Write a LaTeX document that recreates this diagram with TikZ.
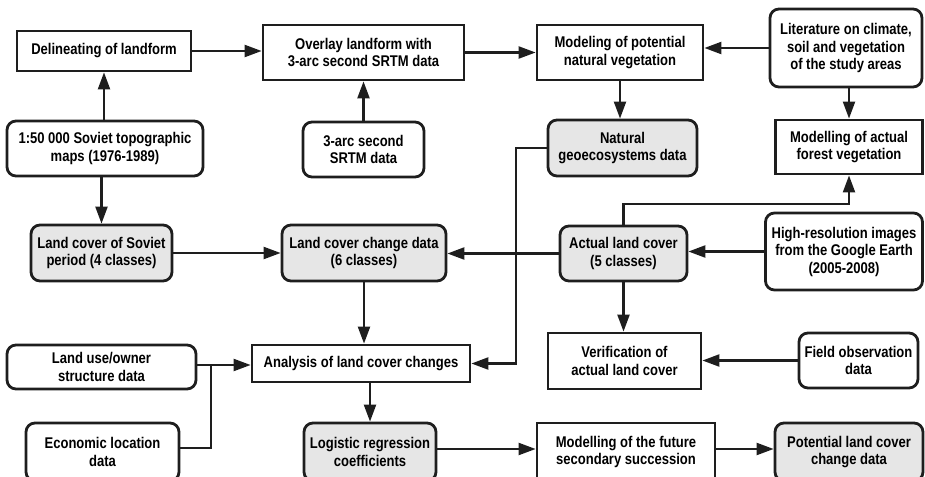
\documentclass[tikz,border=0pt]{standalone}
\usepackage{fontspec}
\setmainfont[FakeStretch=0.84]{Liberation Sans}
\usetikzlibrary{arrows.meta}
\definecolor{ink}{HTML}{1E1E1E}
\definecolor{boxgray}{HTML}{E6E6E6}
\begin{document}
\begin{tikzpicture}[x=1pt,y=1pt,
  base/.style={draw=ink,line width=2.8pt,align=center,inner sep=0pt,
    font=\fontsize{15.5}{17.5}\selectfont\bfseries,text=black},
  sq/.style={base},
  rd/.style={base,rounded corners=9pt},
  gr/.style={base,rounded corners=9pt,fill=boxgray},
  conn/.style={draw=ink,line width=2.2pt,-{Triangle[length=17pt,width=12pt]}},
  plain/.style={draw=ink,line width=2.2pt}]
\useasboundingbox (0,0) rectangle (925,-476);
\clip (0,0) rectangle (925,-476);
% nodes
\node[sq,minimum width=174pt,minimum height=40pt] (dl) at (104,-51) {Delineating of landform};
\node[sq,minimum width=201pt,minimum height=55pt] (ov) at (363.5,-52.5) {Overlay landform with\\3-arc second SRTM data};
\node[sq,minimum width=166pt,minimum height=55pt] (mp) at (620,-52.5) {Modeling of potential\\natural vegetation};
\node[rd,minimum width=152pt,minimum height=78pt] (lit) at (846,-48) {Literature on climate,\\soil and vegetation\\of the study areas};
\node[rd,minimum width=196pt,minimum height=55pt] (top) at (105,-148.5) {1:50 000 Soviet topographic\\maps (1976-1989)};
\node[rd,minimum width=121pt,minimum height=55pt] (srtm) at (363.5,-149.5) {3-arc second\\SRTM data};
\node[gr,minimum width=149pt,minimum height=56pt] (nat) at (622.5,-148) {Natural\\geoecosystems data};
\node[sq,minimum width=147pt,minimum height=54pt] (maf) at (849,-147) {Modelling of actual\\forest vegetation};
\node[gr,minimum width=141pt,minimum height=56pt] (sov) at (101.5,-253) {Land cover of Soviet\\period (4 classes)};
\node[gr,minimum width=164pt,minimum height=56pt] (lcc) at (364,-253) {Land cover change data\\(6 classes)};
\node[gr,minimum width=127pt,minimum height=55pt] (alc) at (623.5,-253.5) {Actual land cover\\(5 classes)};
\node[rd,minimum width=157pt,minimum height=77pt] (hri) at (844,-251.5) {High-resolution images\\from the Google Earth\\(2005-2008)};
\node[rd,minimum width=189pt,minimum height=44pt] (lu) at (101.5,-367) {Land use/owner\\structure data};
\node[sq,minimum width=218pt,minimum height=37pt] (an) at (361,-363.5) {Analysis of land cover changes};
\node[sq,minimum width=153pt,minimum height=56pt] (ver) at (624.5,-361) {Verification of\\actual land cover};
\node[rd,minimum width=119pt,minimum height=55pt] (fo) at (858.5,-360.5) {Field observation\\data};
\node[rd,minimum width=153pt,minimum height=58pt] (eco) at (102.5,-452) {Economic location\\data};
\node[gr,minimum width=132pt,minimum height=58pt] (lr) at (370,-452) {Logistic regression\\coefficients};
\node[sq,minimum width=178pt,minimum height=58pt] (mf) at (626,-452) {Modelling of the future\\secondary succession};
\node[gr,minimum width=148pt,minimum height=58pt] (pot) at (849,-452) {Potential land cover\\change data};
% helper coordinates
\coordinate (j) at (211,-365);
% connectors
\draw[conn] (dl.east) -- (dl.east -| ov.west);
\draw[conn] (top.north -| dl.south) -- (dl.south);
\draw[conn] (top.south -| sov.north) -- (sov.north);
\draw[conn] (srtm.north) -- (srtm.north |- ov.south);
\draw[conn] (ov.east) -- (ov.east -| mp.west);
\draw[conn] (lit.west) -- (lit.west -| mp.east);
\draw[conn] (mp.south) -- (mp.south |- nat.north);
\draw[conn] (lit.south -| maf.north) -- (maf.north);
\draw[conn] (alc.north) -- ++(0,21) -| (maf.south);
\draw[conn] (nat.west) -- ++(-31,0) |- (an.east);
\draw[conn] (hri.west) -- (hri.west -| alc.east);
\draw[conn] (alc.west) -- (alc.west -| lcc.east);
\draw[conn] (sov.east) -- (sov.east -| lcc.west);
\draw[conn] (lcc.south) -- (lcc.south |- an.north);
\draw[conn] (lu.east |- j) -- (j -| an.west);
\draw[plain] (eco.east) ++(0,4) -| (j);
\draw[conn] (an.south -| lr.north) -- (lr.north);
\draw[conn] ([yshift=3pt]lr.east) -- ([yshift=3pt]mf.west);
\draw[conn] ([yshift=3pt]mf.east) -- ([yshift=3pt]pot.west);
\draw[conn] (alc.south) -- (alc.south |- ver.north);
\draw[conn] (fo.west) -- (fo.west -| ver.east);
\end{tikzpicture}
\end{document}
